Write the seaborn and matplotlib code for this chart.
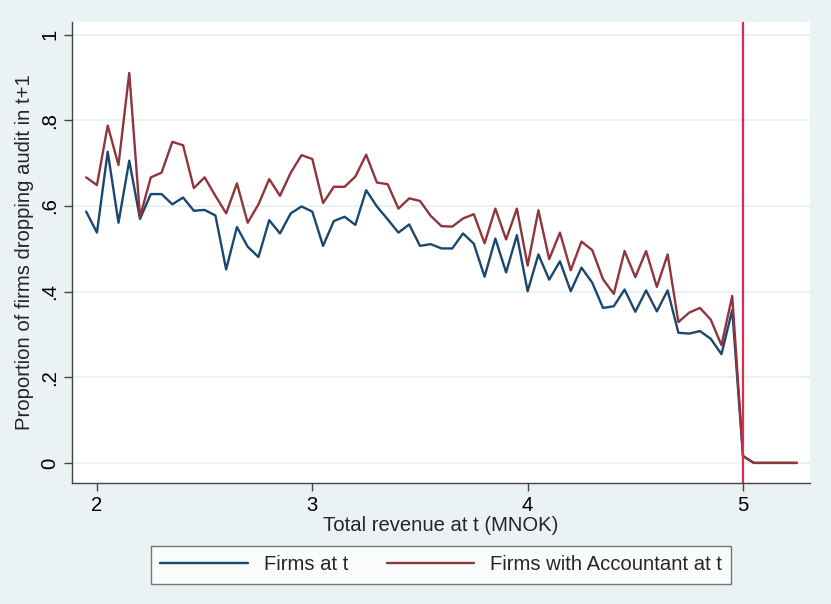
import numpy as np
import pandas as pd
import matplotlib
matplotlib.use("Agg")
import matplotlib.pyplot as plt
import seaborn as sns

# Revenue bins (MNOK)
revenue = [1.95, 2.00, 2.05, 2.10, 2.15, 2.20, 2.25, 2.30, 2.35, 2.40,
           2.45, 2.50, 2.55, 2.60, 2.65, 2.70, 2.75, 2.80, 2.85, 2.90,
           2.95, 3.00, 3.05, 3.10, 3.15, 3.20, 3.25, 3.30, 3.35, 3.40,
           3.45, 3.50, 3.55, 3.60, 3.65, 3.70, 3.75, 3.80, 3.85, 3.90,
           3.95, 4.00, 4.05, 4.10, 4.15, 4.20, 4.25, 4.30, 4.35, 4.40,
           4.45, 4.50, 4.55, 4.60, 4.65, 4.70, 4.75, 4.80, 4.85, 4.90,
           4.95, 5.00, 5.05, 5.10, 5.15, 5.20, 5.25]

# Share of firms dropping audit in t+1
firms_all = [0.587, 0.538, 0.727, 0.561, 0.706, 0.570, 0.628, 0.628, 0.604, 0.620,
             0.589, 0.591, 0.578, 0.452, 0.551, 0.505, 0.481, 0.567, 0.536, 0.583,
             0.599, 0.587, 0.507, 0.565, 0.575, 0.556, 0.637, 0.599, 0.569, 0.538,
             0.557, 0.507, 0.511, 0.501, 0.501, 0.536, 0.512, 0.435, 0.524, 0.445,
             0.532, 0.401, 0.487, 0.428, 0.471, 0.401, 0.456, 0.421, 0.362, 0.366,
             0.405, 0.353, 0.403, 0.354, 0.403, 0.304, 0.302, 0.308, 0.290, 0.254,
             0.357, 0.016, 0.0, 0.0, 0.0, 0.0, 0.0]

firms_accountant = [0.667, 0.649, 0.788, 0.696, 0.911, 0.575, 0.667, 0.678, 0.750, 0.742,
                    0.642, 0.667, 0.624, 0.583, 0.653, 0.561, 0.604, 0.663, 0.624, 0.678,
                    0.719, 0.710, 0.607, 0.645, 0.645, 0.669, 0.720, 0.655, 0.651, 0.594,
                    0.618, 0.612, 0.577, 0.553, 0.552, 0.571, 0.581, 0.513, 0.594, 0.522,
                    0.594, 0.461, 0.590, 0.476, 0.538, 0.450, 0.517, 0.497, 0.429, 0.395,
                    0.495, 0.434, 0.495, 0.411, 0.487, 0.329, 0.351, 0.362, 0.335, 0.275,
                    0.390, 0.016, 0.0, 0.0, 0.0, 0.0, 0.0]

series_names = ["Firms at t", "Firms with Accountant at t"]
threshold = 5.0
x_ticks = [2, 3, 4, 5]
y_ticks = [0, 0.2, 0.4, 0.6, 0.8, 1.0]
y_tick_labels = ["0", ".2", ".4", ".6", ".8", "1"]

df = pd.concat([
    pd.DataFrame({"revenue": revenue, "share": firms_all, "group": series_names[0]}),
    pd.DataFrame({"revenue": revenue, "share": firms_accountant, "group": series_names[1]}),
])

sns.set_theme(style="white")
plt.rcParams["font.family"] = ["Liberation Sans", "DejaVu Sans"]

fs = 14.6
bg = "#EAF2F3"
fig = plt.figure(figsize=(8.31, 6.04), dpi=100, facecolor=bg)
ax = fig.add_axes([0.0866, 0.2003, 0.8881, 0.7633])
ax.set_facecolor("white")

sns.lineplot(data=df, x="revenue", y="share", hue="group",
             palette=["#1A476F", "#90353B"], linewidth=1.7, ax=ax, legend=True)

ax.axvline(threshold, color="#D6304C", linewidth=1.6, zorder=3)

ax.set_xlim(1.884, 5.311)
ax.set_ylim(-0.047, 1.03)
ax.set_xticks(x_ticks)
ax.set_xticklabels([str(t) for t in x_ticks])
ax.set_yticks(y_ticks)
ax.set_yticklabels(y_tick_labels, rotation=90, va="center")

ax.yaxis.grid(True, color="#E4EDEF", linewidth=1.1)
ax.xaxis.grid(False)
ax.set_axisbelow(True)

for side in ["top", "right"]:
    ax.spines[side].set_visible(False)
for side in ["left", "bottom"]:
    ax.spines[side].set_color("#444444")
    ax.spines[side].set_linewidth(1.0)

ax.tick_params(axis="both", which="major", direction="out", length=6,
               width=1.0, color="#444444", labelsize=fs, labelcolor="black",
               left=True, bottom=True)
ax.tick_params(axis="y", pad=3)
ax.tick_params(axis="x", pad=3)

ax.set_xlabel("Total revenue at t (MNOK)", fontsize=fs, labelpad=1)
ax.set_ylabel("Proportion of firms dropping audit in t+1", fontsize=fs, labelpad=5)

handles, labels = ax.get_legend_handles_labels()
ax.get_legend().remove()
leg = fig.legend(handles, labels, loc="center", bbox_to_anchor=(0.531, 0.0646),
                 ncol=2, frameon=True, fancybox=False, fontsize=fs,
                 handlelength=4.3, handletextpad=0.8, columnspacing=1.9,
                 borderpad=0.45)
leg.get_frame().set_edgecolor("#555555")
leg.get_frame().set_linewidth(1.0)
leg.get_frame().set_facecolor("white")

fig.savefig("out.png", dpi=100, facecolor=bg)
